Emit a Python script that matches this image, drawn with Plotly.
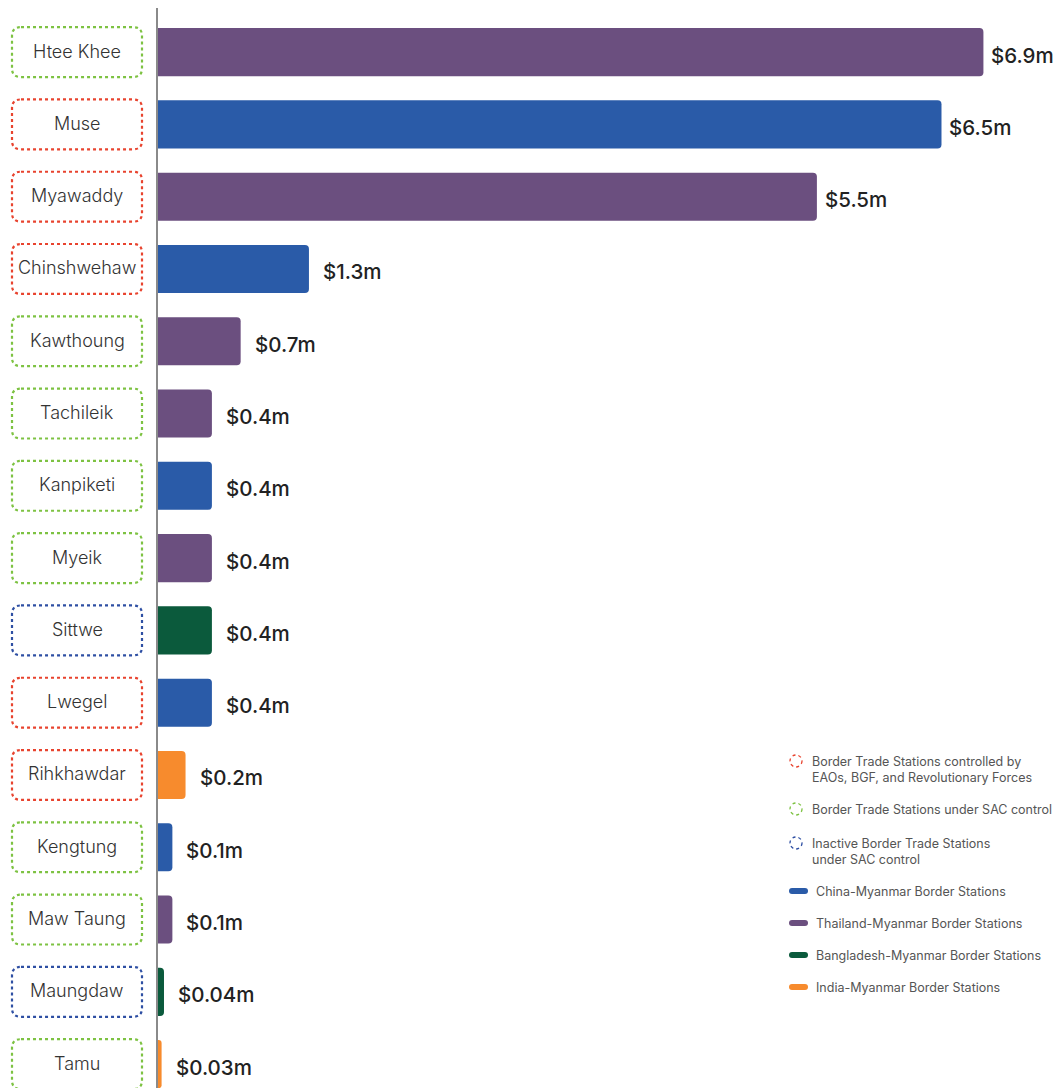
import plotly.graph_objects as go

# ---- data ----
stations = ["Htee Khee", "Muse", "Myawaddy", "Chinshwehaw", "Kawthoung", "Tachileik",
            "Kanpiketi", "Myeik", "Sittwe", "Lwegel", "Rihkhawdar", "Kengtung",
            "Maw Taung", "Maungdaw", "Tamu"]
values = [6.89, 6.54, 5.50, 1.26, 0.69, 0.45, 0.45, 0.45, 0.45, 0.45, 0.23, 0.12, 0.12, 0.05, 0.03]
value_labels = ["$6.9m", "$6.5m", "$5.5m", "$1.3m", "$0.7m", "$0.4m", "$0.4m", "$0.4m",
                "$0.4m", "$0.4m", "$0.2m", "$0.1m", "$0.1m", "$0.04m", "$0.03m"]
border = ["Thailand", "China", "Thailand", "China", "Thailand", "Thailand", "China",
          "Thailand", "Bangladesh", "China", "India", "China", "Thailand", "Bangladesh", "India"]
control = ["SAC", "EAO", "EAO", "EAO", "SAC", "SAC", "SAC", "SAC", "Inactive", "EAO",
           "EAO", "SAC", "SAC", "Inactive", "SAC"]

border_colors = {"China": "#2A5BA8", "Thailand": "#6B4F7F", "Bangladesh": "#0B5A3C", "India": "#F78B2D"}
border_names = {"China": "China-Myanmar Border Stations",
                "Thailand": "Thailand-Myanmar Border Stations",
                "Bangladesh": "Bangladesh-Myanmar Border Stations",
                "India": "India-Myanmar Border Stations"}
control_colors = {"EAO": "#E8432E", "SAC": "#7DC242", "Inactive": "#2E4FA3"}
control_names = {"EAO": "Border Trade Stations controlled by<br>EAOs, BGF, and Revolutionary Forces",
                 "SAC": "Border Trade Stations under SAC control",
                 "Inactive": "Inactive Border Trade Stations<br>under SAC control"}

W, H = 1064, 1088
ML, MT = 158, 8
PW, PH = W - ML, H - MT
idx = list(range(len(stations)))

fig = go.Figure()
fig.add_trace(go.Bar(
    x=values, y=idx, orientation="h",
    marker=dict(color=[border_colors[b] for b in border], cornerradius=4, line=dict(width=0)),
    width=0.665, hoverinfo="skip", showlegend=False,
))

shapes = []
annotations = []

def px2paper_x(px):
    return (px - ML) / PW

def px2paper_y(py):
    return (H - py) / PH

# category boxes with dotted rounded borders
bx0, bx1 = px2paper_x(12), px2paper_x(142)
rx = 9 / PW
half = 0.345
ry = 0.12
for i, (name, c) in enumerate(zip(stations, control)):
    y0, y1 = i - half, i + half
    path = (f"M {bx0+rx},{y0} L {bx1-rx},{y0} Q {bx1},{y0} {bx1},{y0+ry} "
            f"L {bx1},{y1-ry} Q {bx1},{y1} {bx1-rx},{y1} L {bx0+rx},{y1} "
            f"Q {bx0},{y1} {bx0},{y1-ry} L {bx0},{y0+ry} Q {bx0},{y0} {bx0+rx},{y0} Z")
    shapes.append(dict(type="path", xref="paper", yref="y", path=path,
                       line=dict(color=control_colors[c], width=2.2, dash="dot")))
    annotations.append(dict(x=(bx0 + bx1) / 2, xref="paper", y=i, yref="y", text=name,
                            showarrow=False, xanchor="center", yanchor="middle", yshift=1,
                            font=dict(family="Inter", size=18, color="#333333", weight=300)))

# value labels
for i, (v, lab) in enumerate(zip(values, value_labels)):
    annotations.append(dict(x=v, y=i, xref="x", yref="y", text=lab, showarrow=False,
                            xanchor="left", yanchor="middle",
                            xshift=6 if v > 5 else 12, yshift=-3,
                            font=dict(family="Inter", size=20.5, color="#222222", weight=500)))

# legend: control status (dotted circles)
leg_ctrl = [("EAO", 761, 769), ("SAC", 809, 809), ("Inactive", 843, 851)]
for key, cy, ty in leg_ctrl:
    r = 6
    shapes.append(dict(type="circle", xref="paper", yref="paper",
                       x0=px2paper_x(796 - r), x1=px2paper_x(796 + r),
                       y0=px2paper_y(cy + r), y1=px2paper_y(cy - r),
                       line=dict(color=control_colors[key], width=1.3, dash="dot")))
    annotations.append(dict(x=px2paper_x(810), y=px2paper_y(ty), xref="paper", yref="paper",
                            text=control_names[key], showarrow=False, xanchor="left",
                            yanchor="middle", align="left",
                            font=dict(family="Inter", size=12.5, color="#555555")))

# legend: border type (short rounded bars)
leg_border = [("China", 891), ("Thailand", 923), ("Bangladesh", 955), ("India", 987)]
for key, cy in leg_border:
    xa, xb = px2paper_x(789), px2paper_x(808)
    rxp = 3 / PW
    ya, yb = px2paper_y(cy + 3), px2paper_y(cy - 3)
    ym = px2paper_y(cy)
    path = (f"M {xa+rxp},{ya} L {xb-rxp},{ya} Q {xb},{ya} {xb},{ym} Q {xb},{yb} {xb-rxp},{yb} "
            f"L {xa+rxp},{yb} Q {xa},{yb} {xa},{ym} Q {xa},{ya} {xa+rxp},{ya} Z")
    shapes.append(dict(type="path", xref="paper", yref="paper", path=path,
                       fillcolor=border_colors[key], line=dict(width=0)))
    annotations.append(dict(x=px2paper_x(814), y=px2paper_y(cy), xref="paper", yref="paper",
                            text=border_names[key], showarrow=False, xanchor="left",
                            yanchor="middle",
                            font=dict(family="Inter", size=12.5, color="#555555")))

fig.update_layout(
    width=W, height=H,
    margin=dict(l=ML, r=0, t=MT, b=0, pad=0),
    paper_bgcolor="white", plot_bgcolor="rgba(0,0,0,0)",
    xaxis=dict(range=[0, PW / 119.8], visible=False, fixedrange=True),
    yaxis=dict(range=[14.33, -0.61], showticklabels=False, showgrid=False, zeroline=False,
               showline=True, linecolor="#8a8a8a", linewidth=2, ticks="", fixedrange=True),
    shapes=shapes, annotations=annotations,
    bargap=0.3, showlegend=False,
)

fig.write_html("out.html", config={"displayModeBar": False})
